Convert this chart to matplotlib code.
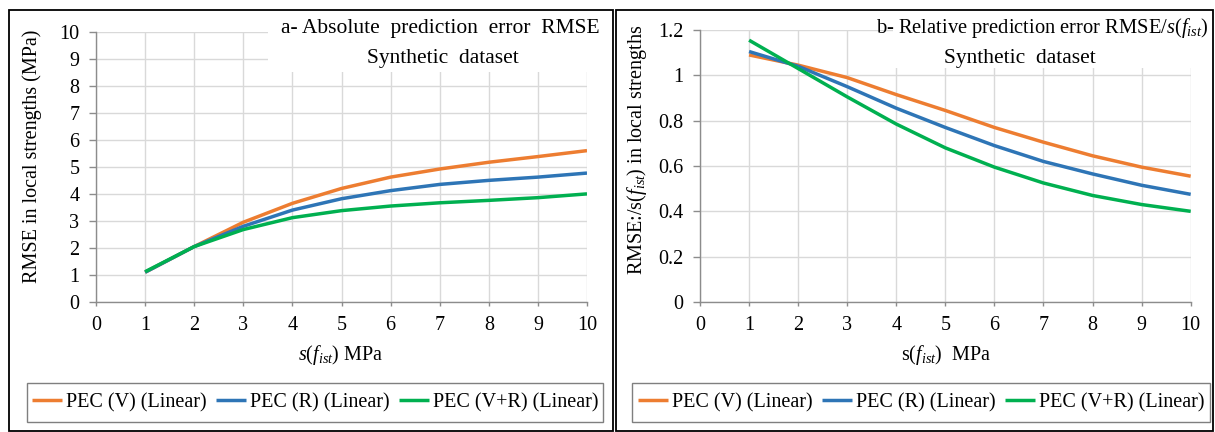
import matplotlib
matplotlib.use("Agg")
import matplotlib.pyplot as plt
from matplotlib.patches import Rectangle
from matplotlib.ticker import FuncFormatter

# ---------------- data ----------------
x = [1, 2, 3, 4, 5, 6, 7, 8, 9, 10]
series_names = ["PEC (V) (Linear)", "PEC (R) (Linear)", "PEC (V+R) (Linear)"]

abs_V = [1.10, 2.05, 2.95, 3.65, 4.20, 4.62, 4.92, 5.17, 5.38, 5.60]
abs_R = [1.10, 2.05, 2.80, 3.40, 3.82, 4.12, 4.35, 4.50, 4.62, 4.77]
abs_VR = [1.12, 2.05, 2.68, 3.12, 3.38, 3.55, 3.67, 3.76, 3.86, 4.00]

rel_V = [1.090, 1.045, 0.990, 0.915, 0.845, 0.770, 0.705, 0.645, 0.595, 0.555]
rel_R = [1.105, 1.040, 0.950, 0.855, 0.770, 0.690, 0.620, 0.565, 0.515, 0.475]
rel_VR = [1.155, 1.030, 0.905, 0.785, 0.680, 0.595, 0.525, 0.470, 0.430, 0.400]

x_ticks = [0, 1, 2, 3, 4, 5, 6, 7, 8, 9, 10]
abs_yticks = [0, 1, 2, 3, 4, 5, 6, 7, 8, 9, 10]
rel_yticks = [0, 0.2, 0.4, 0.6, 0.8, 1.0, 1.2]

colors = ["#ED7D31", "#2E75B6", "#00B050"]

# ---------------- style ----------------
plt.rcParams["font.family"] = ["Liberation Serif", "DejaVu Serif"]
plt.rcParams["mathtext.fontset"] = "custom"
plt.rcParams["mathtext.rm"] = "Liberation Serif"
plt.rcParams["mathtext.it"] = "Liberation Serif:italic"

W, H = 1215, 432
fig = plt.figure(figsize=(W / 100, H / 100), dpi=100)


def fx(px):
    return px / W


def fy(py):
    return 1 - py / H


FS = 14.5
GRID = "#D9D9D9"
AXC = "#8C8C8C"


def make_axes(x0, x1, y0, y1):
    ax = fig.add_axes([fx(x0), fy(y1), fx(x1) - fx(x0), fy(y0) - fy(y1)])
    for s in ["top", "right"]:
        ax.spines[s].set_visible(False)
    ax.spines["bottom"].set_color(AXC)
    ax.spines["left"].set_color(AXC)
    ax.spines["bottom"].set_linewidth(1.0)
    ax.spines["left"].set_linewidth(1.0)
    ax.grid(True, color=GRID, linewidth=1.0)
    ax.set_axisbelow(True)
    ax.tick_params(axis="x", direction="out", length=3, width=1.0, color=AXC,
                   labelsize=FS, pad=7)
    ax.tick_params(axis="y", direction="out", length=5, width=1.0, color=AXC,
                   labelsize=FS, pad=7)
    return ax


fmt = FuncFormatter(lambda v, p: "%g" % round(v, 2))

# ---------- left panel ----------
axL = make_axes(96, 587, 31.7, 302)
for ys, c, n in zip([abs_V, abs_R, abs_VR], colors, series_names):
    axL.plot(x, ys, color=c, lw=2.5, label=n, solid_capstyle="butt")
axL.set_xlim(0, 10)
axL.set_ylim(0, 10)
axL.set_xticks(x_ticks)
axL.set_yticks(abs_yticks)
axL.xaxis.set_major_formatter(fmt)
axL.yaxis.set_major_formatter(fmt)

# ---------- right panel ----------
axR = make_axes(700, 1190.7, 30, 302)
for ys, c, n in zip([rel_V, rel_R, rel_VR], colors, series_names):
    axR.plot(x, ys, color=c, lw=2.5, label=n, solid_capstyle="butt")
axR.set_xlim(0, 10)
axR.set_ylim(0, 1.2)
axR.set_xticks(x_ticks)
axR.set_yticks(rel_yticks)
axR.xaxis.set_major_formatter(fmt)
axR.yaxis.set_major_formatter(fmt)

# ---------- axis labels ----------
fig.text(fx(341), fy(355), r"$s(f_{ist})$ MPa", ha="center", va="center", fontsize=FS)
fig.text(fx(946), fy(355), r"$\mathrm{s}(f_{ist})$  MPa", ha="center", va="center", fontsize=FS)
fig.text(fx(32), fy(156), "RMSE in local strengths (MPa)", rotation=90,
         ha="center", va="center", fontsize=FS)
fig.text(fx(637), fy(150), r"RMSE:/s$(f_{ist})$ in local strengths", rotation=90,
         ha="center", va="center", fontsize=FS)

# ---------- title boxes ----------
fig.add_artist(Rectangle((fx(268), fy(72)), fx(605) - fx(268), fy(18) - fy(72),
                         transform=fig.transFigure, facecolor="white",
                         edgecolor="none", zorder=2))
fig.add_artist(Rectangle((fx(893), fy(68)), fx(1210) - fx(893), fy(15) - fy(68),
                         transform=fig.transFigure, facecolor="white",
                         edgecolor="none", zorder=2))
TFS = 15.5
fig.text(fx(440), fy(33), "a- Absolute  prediction  error  RMSE", ha="center",
         va="baseline", fontsize=TFS, zorder=3)
fig.text(fx(443), fy(63), "Synthetic  dataset", ha="center", va="baseline",
         fontsize=TFS, zorder=3)
fig.text(fx(1209), fy(33), r"b- Relative prediction error RMSE/$s(f_{ist})$",
         ha="right", va="baseline", fontsize=14.8, zorder=3)
fig.text(fx(1020), fy(63), "Synthetic  dataset", ha="center", va="baseline",
         fontsize=TFS, zorder=3)

# ---------- legends ----------
for (lx0, lx1), ax in zip([(27, 603), (632, 1210)], [axL, axR]):
    fig.add_artist(Rectangle((fx(lx0), fy(422)), fx(lx1) - fx(lx0), fy(383) - fy(422),
                             transform=fig.transFigure, facecolor="white",
                             edgecolor="#7F7F7F", linewidth=1.0, zorder=2))
    h, l = ax.get_legend_handles_labels()
    leg = fig.legend(h, l, loc="center", bbox_to_anchor=(fx((lx0 + lx1) / 2), fy(402.5)),
                     ncol=3, frameon=False, fontsize=FS, handlelength=1.5,
                     handletextpad=0.2, columnspacing=0.45, borderpad=0.0)
    leg.set_zorder(3)

# ---------- panel borders ----------
for bx0, bx1 in [(9, 613), (616, 1213)]:
    fig.add_artist(Rectangle((fx(bx0), fy(431)), fx(bx1) - fx(bx0), fy(10) - fy(431),
                             transform=fig.transFigure, facecolor="none",
                             edgecolor="black", linewidth=1.3, zorder=4))

fig.savefig("out.png", dpi=100)
